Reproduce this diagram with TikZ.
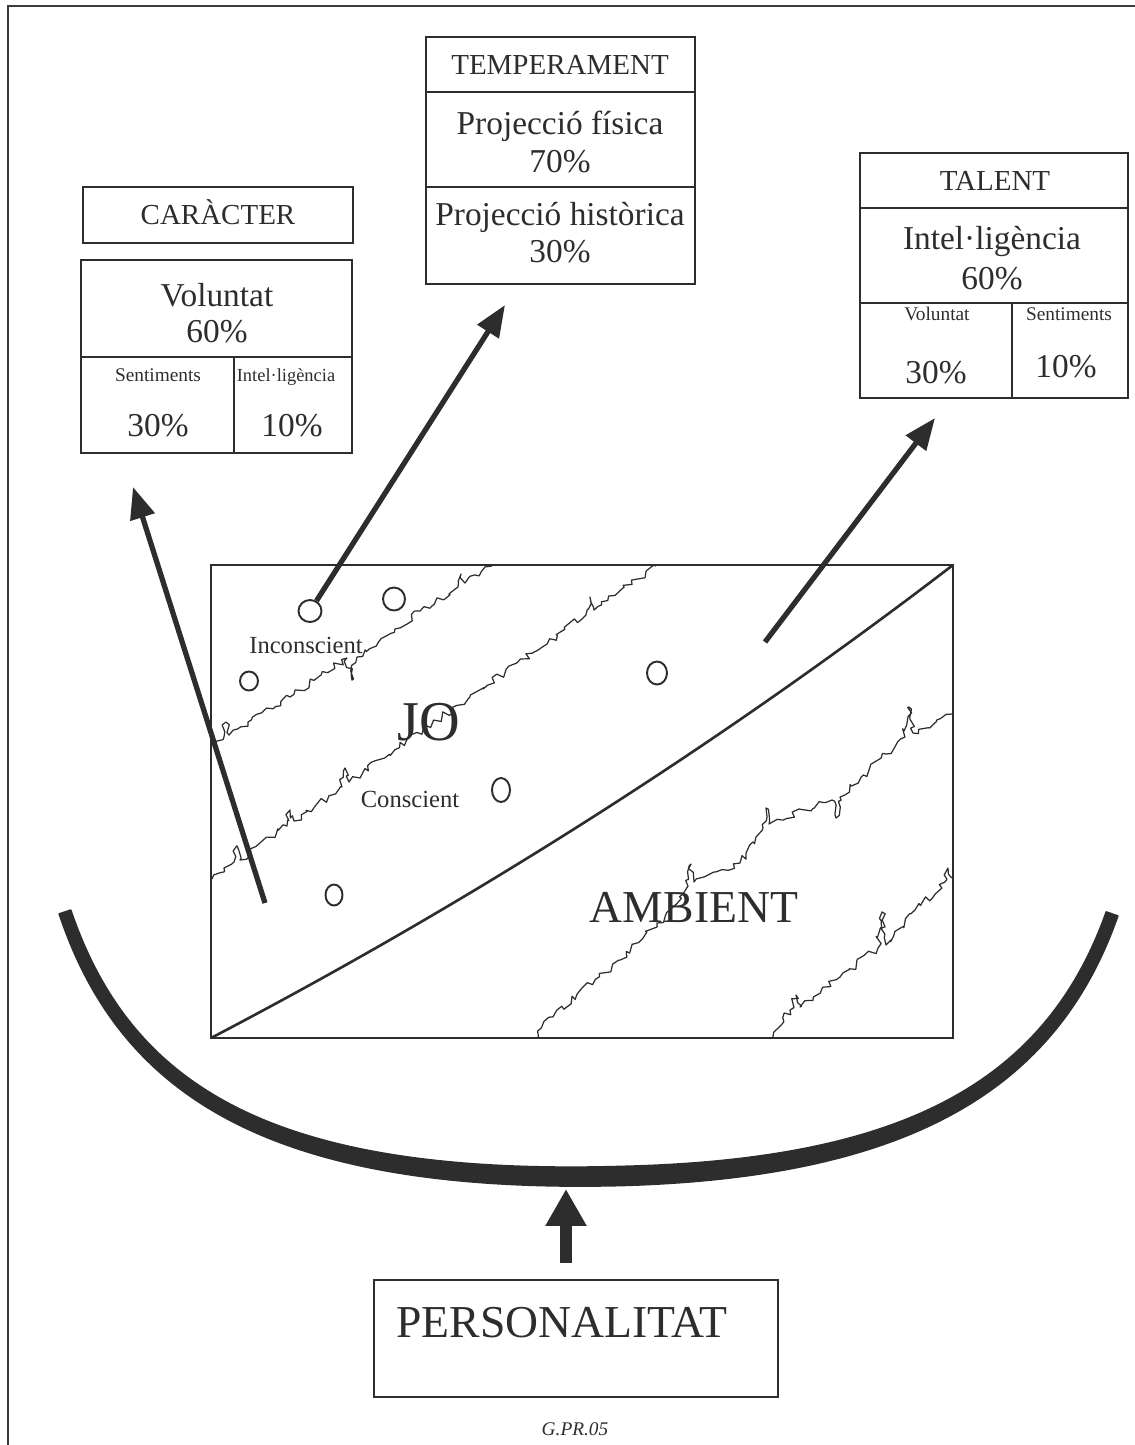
\documentclass[tikz,border=0pt]{standalone}
\usepackage{fontspec}
\setmainfont{Liberation Serif}
\usetikzlibrary{positioning, arrows.meta, shapes.geometric, decorations.pathmorphing}

\definecolor{InkColor}{RGB}{45,45,45}
\definecolor{FrameColor}{RGB}{60,60,60}

\tikzset{
  panel/.style={draw=InkColor, line width=1.5pt},
  heading/.style={font=\fontsize{16.5}{18}\selectfont, text=InkColor, anchor=base},
  share/.style={font=\fontsize{19}{21}\selectfont, text=InkColor, anchor=base},
  minor/.style={font=\fontsize{11}{12}\selectfont, text=InkColor, anchor=base},
  zone/.style={font=\fontsize{14}{16}\selectfont, text=InkColor, anchor=base},
  bubble/.style={ellipse, draw=InkColor, line width=1.1pt, inner sep=0pt},
  pointer/.style={line width=3pt, InkColor, -{Triangle[length=18pt, width=14pt]}},
  lift/.style={line width=6.5pt, InkColor, -{Triangle[length=21pt, width=22pt]}},
  wave/.style={InkColor, line width=0.7pt, line join=round, decorate,
    decoration={random steps, segment length=2.6pt, amplitude=2pt}}
}

\begin{document}
\begin{tikzpicture}[x=0.02cm, y=-0.02cm]
  \useasboundingbox (0,0) rectangle (1135,1445);
  \pgfmathsetseed{7}

  % Page frame
  \draw[FrameColor, line width=1.2pt] (8,1445) -- (8,6) -- (1135,6);

  % Caracter
  \draw[panel] (83,187) rectangle (353,243);
  \node[heading] (caracter) at (218,224) {CARÀCTER};
  \draw[panel] (81,260) rectangle (352,453);
  \draw[panel] (81,357) -- (352,357);
  \draw[panel] (234,357) -- (234,453);
  \node[share] (carVol) at (217,306) {Voluntat};
  \node[share] (carVolPct) at (217,342) {60\%};
  \node[minor] (carSent) at (158,381) {Sentiments};
  \node[minor, font=\fontsize{10.5}{12}\selectfont] (carInt) at (286,381) {Intel·ligència};
  \node[share] (carSentPct) at (158,436) {30\%};
  \node[share] (carIntPct) at (292,436) {10\%};

  % Temperament
  \draw[panel] (426,37) rectangle (695,284);
  \draw[panel] (426,92) -- (695,92);
  \draw[panel] (426,187) -- (695,187);
  \node[heading] (temperament) at (560,74) {TEMPERAMENT};
  \node[share] (tempFis) at (560,134) {Projecció física};
  \node[share] (tempFisPct) at (560,172) {70\%};
  \node[share] (tempHis) at (560,225) {Projecció històrica};
  \node[share] (tempHisPct) at (560,262) {30\%};

  % Talent
  \draw[panel] (860,153) rectangle (1128,398);
  \draw[panel] (860,208) -- (1128,208);
  \draw[panel] (860,303) -- (1128,303);
  \draw[panel] (1012,303) -- (1012,398);
  \node[heading] (talent) at (995,190) {TALENT};
  \node[share] (talInt) at (992,249) {Intel·ligència};
  \node[share] (talIntPct) at (992,289) {60\%};
  \node[minor] (talVol) at (937,320) {Voluntat};
  \node[minor] (talSent) at (1069,320) {Sentiments};
  \node[share] (talVolPct) at (936,383) {30\%};
  \node[share] (talSentPct) at (1066,377) {10\%};

  % Jo and ambient
  \draw[panel] (211,565) rectangle (953,1038);
  \draw[panel] (211,1038) .. controls (471,902) and (718,745) .. (953,565);

  % wavy borders
  \draw[wave] (214,744) -- (224,737) -- (226,722) -- (229,735) -- (290,697) -- (347,658)
    -- (352,680) -- (357,657) -- (420,611) -- (458,587) -- (461,574) -- (465,583) -- (492,566);
  \draw[wave] (212,879) -- (234,862) -- (237,846) -- (240,860) -- (287,826) -- (290,810)
    -- (294,821) -- (342,787) -- (345,768) -- (349,782) -- (470,697) -- (586,615)
    -- (590,597) -- (594,610) -- (656,566);
  \draw[wave] (535,1038) -- (550,1017) -- (620,960) -- (665,917) -- (688,886) -- (691,864)
    -- (694,882) -- (740,863) -- (763,828) -- (766,808) -- (769,824) -- (832,800)
    -- (836,818) -- (840,797) -- (905,737) -- (909,707) -- (913,733) -- (952,714);
  \draw[wave] (770,1038) -- (790,1010) -- (796,995) -- (800,1007) -- (840,977) -- (878,948)
    -- (882,912) -- (886,945) -- (915,910) -- (945,882) -- (948,868) -- (952,878);

  \node[zone] (inconscient) at (306,653) {Inconscient};
  \node[zone] (conscient) at (410,807) {Conscient};
  \node[font=\fontsize{32}{34}\selectfont, text=InkColor, anchor=base] (jo) at (429,740) {JO};
  \node[font=\fontsize{26}{28}\selectfont, text=InkColor, anchor=base] (ambient) at (694,922) {AMBIENT};

  % bubbles
  \node[bubble, minimum width=0.46cm, minimum height=0.44cm] (bubbleA) at (310,611) {};
  \node[bubble, minimum width=0.44cm, minimum height=0.46cm] (bubbleB) at (394,599) {};
  \node[bubble, minimum width=0.36cm, minimum height=0.38cm] (bubbleC) at (249,681) {};
  \node[bubble, minimum width=0.40cm, minimum height=0.46cm] (bubbleD) at (657,673) {};
  \node[bubble, minimum width=0.36cm, minimum height=0.48cm] (bubbleE) at (501,790) {};
  \node[bubble, minimum width=0.34cm, minimum height=0.42cm] (bubbleF) at (334,895) {};

  % Arrows to the three boxes
  \coordinate (carFoot) at (265,903);
  \coordinate (carTip) at (133,487);
  \draw[pointer] (carFoot) -- (carTip);
  \coordinate (tempTip) at (505,305);
  \draw[pointer] (bubbleA) -- (tempTip);
  \coordinate (talFoot) at (765,642);
  \coordinate (talTip) at (935,418);
  \draw[pointer] (talFoot) -- (talTip);

  % Bowl
  \filldraw[InkColor, line width=1pt, line join=round]
    (59.3,913.9) .. controls (119.4,1094.2) and (268.5,1193.9) .. (620.2,1185.5)
    .. controls (901.8,1177.8) and (1055.4,1094.5) .. (1117.7,916)
    -- (1106.3,912) .. controls (1044.6,1085.5) and (898.2,1160.2) .. (619.8,1166.5)
    .. controls (271.5,1176.1) and (130.6,1085.8) .. (70.7,910.1) -- cycle;

  % Personalitat
  \draw[panel] (374,1280) rectangle (778,1397);
  \node[font=\fontsize{26}{28}\selectfont, text=InkColor, anchor=base] (personalitat) at (562,1337) {PERSONALITAT};
  \coordinate (liftFoot) at (566,1263);
  \coordinate (liftTip) at (566,1189);
  \draw[lift] (liftFoot) -- (liftTip);

  \node[font=\itshape\fontsize{11}{12}\selectfont, text=InkColor, anchor=base] (code) at (575,1435) {G.PR.05};
\end{tikzpicture}
\end{document}
